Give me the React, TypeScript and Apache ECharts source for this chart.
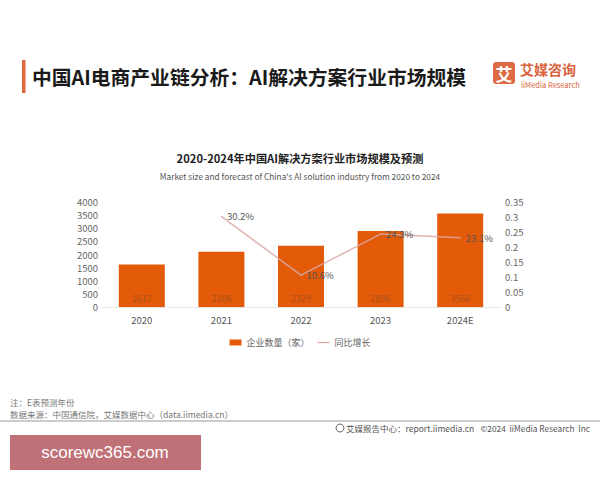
import React, { useEffect, useRef } from "react";
import * as echarts from "echarts";

const categories = ["2020", "2021", "2022", "2023", "2024E"];
const companyCounts = [1617, 2106, 2329, 2896, 3566];
const growthRates: (number | null)[] = [null, 0.302, 0.106, 0.243, 0.231];
const leftTicks = { min: 0, max: 4000, interval: 500 };
const rightTicks = { min: 0, max: 0.35, interval: 0.05 };

const FONT = "'Noto Sans CJK SC', 'Noto Sans', sans-serif";

export default function App() {
  const ref = useRef<HTMLDivElement>(null);
  useEffect(() => {
    if (!ref.current) return;
    const chart = echarts.init(ref.current, undefined, { renderer: "svg" });
    chart.setOption({
      animation: false,
      backgroundColor: "#ffffff",
      textStyle: { fontFamily: FONT },
      title: [
        {
          text: "2020-2024年中国AI解决方案行业市场规模及预测",
          left: "center",
          top: 147,
          textStyle: { fontSize: 11.2, fontWeight: "bold", color: "#222", fontFamily: FONT },
        },
        {
          text: "Market size and forecast of China's AI solution industry from 2020 to 2024",
          left: "center",
          top: 167,
          textStyle: { fontSize: 8.3, fontWeight: "normal", color: "#555", fontFamily: FONT },
        },
      ],
      legend: {
        top: 333,
        left: "center",
        itemWidth: 12,
        itemHeight: 6,
        itemGap: 8,
        textStyle: { fontSize: 9, color: "#666", fontFamily: FONT },
        data: [
          { name: "企业数量（家）", icon: "rect" },
          { name: "同比增长", icon: "path://M0,9 L20,9 L20,11 L0,11 Z", itemStyle: { color: "#d9a9a6", opacity: 1 } },
        ],
      },
      grid: { left: 102, right: 100, top: 202, bottom: 173 },
      xAxis: {
        type: "category",
        data: categories,
        axisTick: { show: false },
        axisLine: { lineStyle: { color: "#e6e6e6" } },
        axisLabel: { fontSize: 9.5, color: "#555", margin: 8, fontFamily: FONT },
      },
      yAxis: [
        {
          type: "value",
          ...leftTicks,
          splitLine: { show: false },
          axisLine: { show: false },
          axisTick: { show: false },
          axisLabel: {
            fontSize: 9.5,
            color: "#666",
            margin: 4,
            fontFamily: FONT,
            formatter: (v: number) => String(v),
          },
        },
        {
          type: "value",
          ...rightTicks,
          splitLine: { show: false },
          axisLine: { show: false },
          axisTick: { show: false },
          axisLabel: {
            fontSize: 9.5,
            color: "#666",
            margin: 5,
            fontFamily: FONT,
            formatter: (v: number) => String(Math.round(v * 100) / 100),
          },
        },
      ],
      series: [
        {
          name: "企业数量（家）",
          type: "bar",
          data: companyCounts,
          barWidth: 46,
          itemStyle: { color: "#E35A08" },
          label: {
            show: true,
            position: "insideBottom",
            distance: 4,
            fontSize: 9,
            color: "#a9521f",
            fontFamily: FONT,
          },
        },
        {
          name: "同比增长",
          type: "line",
          yAxisIndex: 1,
          data: growthRates,
          symbol: "circle",
          symbolSize: 1,
          showSymbol: true,
          lineStyle: { color: "#d9a9a6", width: 1.5, opacity: 0.85 },
          itemStyle: { color: "#d9a9a6" },
          label: {
            show: true,
            position: "right",
            distance: 5,
            fontSize: 9.5,
            color: "#555",
            fontFamily: FONT,
            formatter: (p: any) => (p.value == null ? "" : (p.value * 100).toFixed(1) + "%"),
          },
        },
      ],
      graphic: [
        { type: "rect", shape: { x: 22, y: 60, width: 3.5, height: 33 }, style: { fill: "#E0683F" } },
        {
          type: "text",
          x: 32,
          y: 76,
          style: {
            text: "中国AI电商产业链分析：AI解决方案行业市场规模",
            font: `bold 19.8px ${FONT}`,
            fill: "#1a1a1a",
            textVerticalAlign: "middle",
          },
        },
        { type: "rect", shape: { x: 493, y: 62, width: 22, height: 22, r: 3 }, style: { fill: "#DD6B45" } },
        {
          type: "text",
          x: 504,
          y: 73,
          style: {
            text: "艾",
            font: `bold 17px ${FONT}`,
            fill: "#ffffff",
            textAlign: "center",
            textVerticalAlign: "middle",
          },
        },
        {
          type: "text",
          x: 520,
          y: 69,
          style: {
            text: "艾媒咨询",
            font: `bold 14px ${FONT}`,
            fill: "#D9603A",
            textVerticalAlign: "middle",
          },
        },
        {
          type: "text",
          x: 521,
          y: 84,
          style: {
            text: "iiMedia Research",
            font: `7.5px ${FONT}`,
            fill: "#D9603A",
            textVerticalAlign: "middle",
          },
        },
        {
          type: "text",
          x: 10,
          y: 402,
          style: { text: "注：E表预测年份", font: `8.5px ${FONT}`, fill: "#777", textVerticalAlign: "middle" },
        },
        {
          type: "text",
          x: 10,
          y: 414,
          style: {
            text: "数据来源：中国通信院，艾媒数据中心（data.iimedia.cn）",
            font: `8.5px ${FONT}`,
            fill: "#777",
            textVerticalAlign: "middle",
          },
        },
        { type: "line", shape: { x1: 0, y1: 421, x2: 600, y2: 421 }, style: { stroke: "#999", lineWidth: 1.2 } },
        { type: "circle", shape: { cx: 340, cy: 428, r: 4 }, style: { fill: "none", stroke: "#666", lineWidth: 1 } },
        {
          type: "text",
          x: 346,
          y: 428,
          style: {
            text: "艾媒报告中心：report.iimedia.cn",
            font: `8.5px ${FONT}`,
            fill: "#555",
            textVerticalAlign: "middle",
          },
        },
        {
          type: "text",
          x: 590,
          y: 428,
          style: {
            text: "©2024  iiMedia Research  Inc",
            font: `8.3px ${FONT}`,
            fill: "#555",
            textAlign: "right",
            textVerticalAlign: "middle",
          },
        },
        { type: "rect", shape: { x: 10, y: 435, width: 191, height: 35 }, style: { fill: "#C07077" } },
        {
          type: "text",
          x: 105,
          y: 452,
          style: {
            text: "scorewc365.com",
            font: `17px 'Liberation Sans', Arial, sans-serif`,
            fill: "#ffffff",
            textAlign: "center",
            textVerticalAlign: "middle",
          },
        },
      ],
    });
    return () => chart.dispose();
  }, []);
  return (
    <div
      ref={ref}
      style={{ position: "fixed", left: 0, top: 0, width: 600, height: 480 }}
    />
  );
}
